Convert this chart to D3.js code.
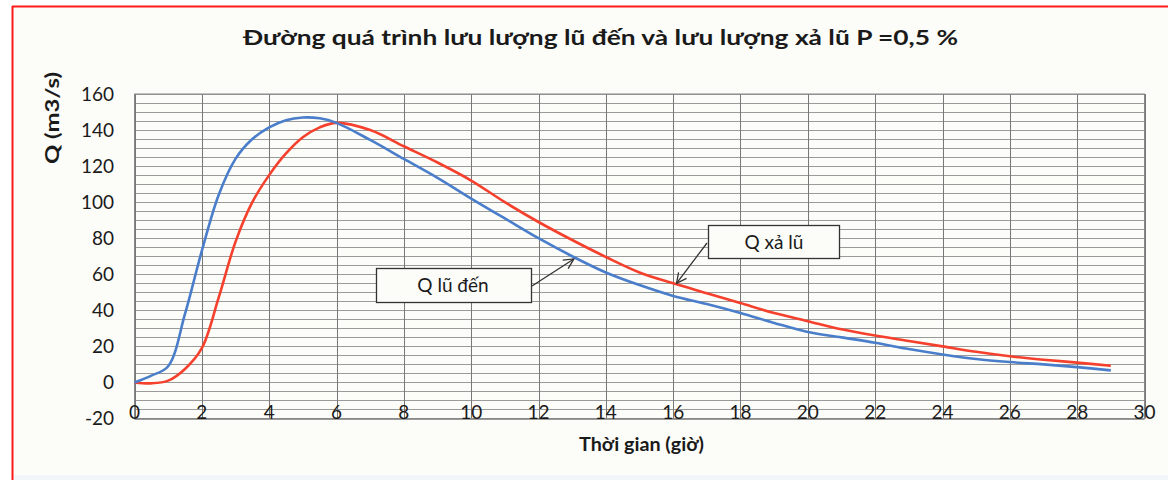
<!DOCTYPE html>
<html><head><meta charset="utf-8">
<script src="https://cdn.jsdelivr.net/npm/d3@7"></script>
<style>
html,body{margin:0;padding:0;background:#fff;}
svg{display:block;}
text{font-family:Lato,"Open Sans",sans-serif;fill:#1a1a1a;}
</style></head>
<body>
<svg id="c" width="1168" height="480"></svg>
<script>
const title = "Đường quá trình lưu lượng lũ đến và lưu lượng xả lũ P =0,5 %";
const xTitle = "Thời gian (giờ)";
const yTitle = "Q (m3/s)";
const times = [0,0.5,1,1.5,2,2.5,3,3.5,4,4.5,5,5.5,6,7,8,9,10,11,12,13,14,15,16,17,18,19,20,21,22,23,24,25,26,27,28,29];
const qInflow = [0,3.8,9,38,73,104,124,135,141.5,145.5,147,146.5,144,134.5,124,113.5,102,91,80,70,61,54,48,43.5,38.5,33,28,25,22,18.5,15.5,13,11.3,10,8.5,6.7];
const qOutflow = [0,-0.5,1,7.5,19,47,78,100,115,127,136,141.5,144,140,131,122,112,100,89,79,69.6,61,55,49.5,44,38.5,34,29.5,26,23,20,17,14.5,12.6,11,9.3];
const xTicks = d3.range(0,31,2);
const yTicks = d3.range(-20,161,20);
const yMinor = d3.range(-20,161,5);
const labelInflow = "Q lũ đến";
const labelOutflow = "Q xả lũ";

const svg = d3.select("#c");
// background & frame
svg.append("rect").attr("x",0).attr("y",0).attr("width",1168).attr("height",480).attr("fill","#ffffff");
svg.append("rect").attr("x",13).attr("y",7).attr("width",1160).attr("height",470).attr("fill","#fcfcf8");
svg.append("rect").attr("x",13).attr("y",475).attr("width",1160).attr("height",5).attr("fill","#f3f6f8");
svg.append("line").attr("x1",12.5).attr("x2",12.5).attr("y1",6).attr("y2",480).attr("stroke","#ff1a1a").attr("stroke-width",2);
svg.append("line").attr("x1",12).attr("x2",1168).attr("y1",6.5).attr("y2",6.5).attr("stroke","#ff1a1a").attr("stroke-width",2);

const x = d3.scaleLinear().domain([0,30]).range([134.5,1144.5]);
const y = d3.scaleLinear().domain([-20,160]).range([418.5,94]);

const g = svg.append("g");
// horizontal grid
g.selectAll("line.h").data(yMinor).join("line")
  .attr("x1",x(0)).attr("x2",x(30))
  .attr("y1",d=>Math.round(y(d))+0.5).attr("y2",d=>Math.round(y(d))+0.5)
  .attr("stroke","#9a9a9a").attr("stroke-width",1);
// vertical grid
g.selectAll("line.v").data(xTicks).join("line")
  .attr("x1",d=>Math.round(x(d))+0.5).attr("x2",d=>Math.round(x(d))+0.5)
  .attr("y1",y(160)).attr("y2",y(-20))
  .attr("stroke","#777").attr("stroke-width",1);
g.append("rect").attr("x",x(0)).attr("y",y(160)).attr("width",x(30)-x(0)).attr("height",y(-20)-y(160))
  .attr("fill","none").attr("stroke","#888");

// tick labels
svg.selectAll("text.yt").data(yTicks).join("text")
  .attr("x",114).attr("y",d=>y(d)).attr("dy","0.36em").attr("text-anchor","end")
  .attr("font-size",19).text(d=>d);
svg.selectAll("text.xt").data(xTicks).join("text")
  .attr("x",d=>x(d)).attr("y",419).attr("text-anchor","middle")
  .attr("font-size",19).text(d=>d);

// titles
svg.append("text").attr("x",243).attr("y",45).attr("font-size",21).attr("font-weight","bold")
  .attr("textLength",715).attr("lengthAdjust","spacingAndGlyphs").text(title);
svg.append("text").attr("x",579).attr("y",451).attr("font-size",18).attr("font-weight","bold")
  .attr("textLength",125).attr("lengthAdjust","spacingAndGlyphs").text(xTitle);
svg.append("text").attr("transform","translate(59,118) rotate(-90)").attr("text-anchor","middle")
  .attr("font-size",18).attr("font-weight","bold")
  .attr("textLength",92).attr("lengthAdjust","spacingAndGlyphs").text(yTitle);

// curves
const line = (vals)=>d3.line().x((d,i)=>x(times[i])).y(d=>y(d)).curve(d3.curveCatmullRom.alpha(0.5))(vals);
svg.append("path").attr("d",line(qOutflow)).attr("fill","none").attr("stroke","#f4402c").attr("stroke-width",2.6);
svg.append("path").attr("d",line(qInflow)).attr("fill","none").attr("stroke","#4a7ecb").attr("stroke-width",2.6);

// annotations
const defs = svg.append("defs");
defs.append("marker").attr("id","arr").attr("viewBox","0 0 12 12").attr("refX",11).attr("refY",6)
  .attr("markerWidth",12).attr("markerHeight",12).attr("markerUnits","userSpaceOnUse").attr("orient","auto")
  .append("path").attr("d","M1,1 L11,6 L1,11").attr("fill","none").attr("stroke","#333").attr("stroke-width",1.3);

svg.append("line").attr("x1",532).attr("y1",286).attr("x2",x(13.05)).attr("y2",y(68.5))
  .attr("stroke","#333").attr("stroke-width",1.3).attr("marker-end","url(#arr)");
svg.append("line").attr("x1",707).attr("y1",243).attr("x2",x(16.1)).attr("y2",y(55))
  .attr("stroke","#333").attr("stroke-width",1.3).attr("marker-end","url(#arr)");

svg.append("rect").attr("x",376.5).attr("y",268.5).attr("width",155).attr("height",34)
  .attr("fill","#fcfcf8").attr("stroke","#333").attr("stroke-width",1.3);
svg.append("text").attr("x",453).attr("y",292).attr("text-anchor","middle").attr("font-size",19).text(labelInflow);
svg.append("rect").attr("x",708.5).attr("y",225.5).attr("width",131).attr("height",33)
  .attr("fill","#fcfcf8").attr("stroke","#333").attr("stroke-width",1.3);
svg.append("text").attr("x",774).attr("y",249).attr("text-anchor","middle").attr("font-size",19).text(labelOutflow);
</script>
</body></html>
